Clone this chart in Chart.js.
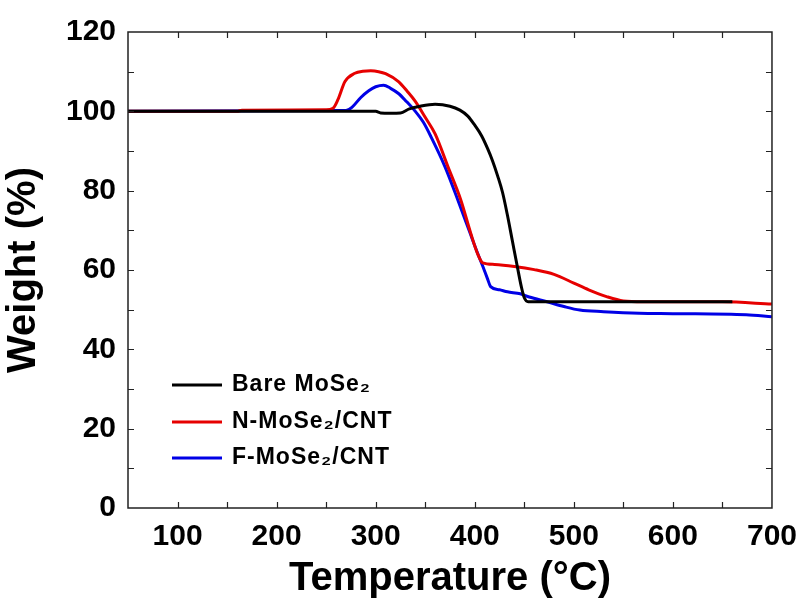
<!DOCTYPE html>
<html>
<head>
<meta charset="utf-8">
<script src="https://cdn.jsdelivr.net/npm/chart.js@4.4.1/dist/chart.umd.min.js"></script>
<style>
  html, body { margin: 0; padding: 0; background: #fff; }
  #wrap { width: 808px; height: 603px; }
</style>
</head>
<body>
<div id="wrap"><canvas id="tga" width="808" height="603"></canvas></div>
<script>
// --- Dane ---
const bareTemp = [50, 150, 250, 300, 305, 315, 325, 334, 345, 360, 375, 385, 393, 400, 407, 413, 418, 423, 428, 433, 438, 443, 447, 450, 454, 500, 600, 660];
const bareWeight = [100, 100, 100, 100, 99.6, 99.5, 99.6, 100.6, 101.3, 101.8, 101.3, 100.3, 98.8, 96.5, 93.8, 90.6, 87.5, 83.8, 79.6, 73.8, 67.3, 60.8, 55.8, 53, 52, 52, 52, 52];

const nTemp = [50, 160, 165, 250, 257, 262, 269, 279, 287, 295, 303, 310, 323, 332, 340, 350, 360, 373, 386, 396, 403, 408, 420, 440, 460, 480, 500, 515, 533, 550, 570, 650, 700];
const nWeight = [100, 100, 100.3, 100.4, 100.8, 103, 107.5, 109.6, 110.1, 110.2, 110, 109.5, 107.5, 105, 102.5, 98.5, 94.3, 86, 77.6, 69.2, 64, 61.8, 61.4, 60.9, 60.1, 58.9, 56.7, 55, 53.3, 52.2, 52, 52, 51.4];

const fTemp = [50, 270, 276, 285, 293, 300, 308, 315, 323, 331, 340, 348, 356, 370, 383, 395, 402, 408, 413, 416, 425, 433, 446, 455, 473, 490, 506, 530, 566, 600, 674, 700];
const fWeight = [100, 100.2, 101, 103.5, 105.2, 106.2, 106.6, 105.8, 104.5, 102.5, 100, 97.3, 93.5, 86, 77.6, 69.5, 64.8, 61, 57.7, 55.8, 55, 54.5, 54, 53.2, 52, 50.8, 49.9, 49.5, 49.1, 49, 48.7, 48.2];

const seriesNames = ['Bare MoSe₂', 'N-MoSe₂/CNT', 'F-MoSe₂/CNT'];
const seriesColors = ['#000000', '#e60000', '#0000e6'];

const xTickLabels = [100, 200, 300, 400, 500, 600, 700];
const yTickLabels = [0, 20, 40, 60, 80, 100, 120];

const FONT = "'Liberation Sans', Arial, sans-serif";

function toPoints(xs, ys) {
  return xs.map((x, i) => ({ x: x, y: ys[i] }));
}

// --- Ramka i ticki do środka ---
const frameTicks = {
  id: 'frameTicks',
  afterDraw(chart) {
    const { ctx, chartArea: a, scales } = chart;
    ctx.save();
    ctx.strokeStyle = '#222';
    ctx.lineWidth = 1.5;
    ctx.strokeRect(a.left, a.top, a.right - a.left, a.bottom - a.top);
    const len = 6;
    ctx.beginPath();
    scales.x.ticks.forEach(t => {
      const px = Math.round(scales.x.getPixelForValue(t.value)) + 0.5;
      if (px <= a.left + 1 || px >= a.right - 1) return;
      ctx.moveTo(px, a.bottom); ctx.lineTo(px, a.bottom - len);
      ctx.moveTo(px, a.top); ctx.lineTo(px, a.top + len);
    });
    scales.y.ticks.forEach(t => {
      const py = Math.round(scales.y.getPixelForValue(t.value)) + 0.5;
      if (py <= a.top + 1 || py >= a.bottom - 1) return;
      ctx.moveTo(a.left, py); ctx.lineTo(a.left + len, py);
      ctx.moveTo(a.right, py); ctx.lineTo(a.right - len, py);
    });
    ctx.lineWidth = 1.2;
    ctx.stroke();
    ctx.restore();
  }
};

// --- Legenda wewnątrz wykresu ---
const insideLegend = {
  id: 'insideLegend',
  afterDraw(chart) {
    const ctx = chart.ctx;
    ctx.save();
    ctx.font = 'bold 23px ' + FONT;
    ctx.textBaseline = 'middle';
    ctx.letterSpacing = '1px';
    const rows = [385, 422, 458];
    chart.data.datasets.forEach((ds, i) => {
      ctx.strokeStyle = ds.borderColor;
      ctx.lineWidth = 3;
      ctx.beginPath();
      ctx.moveTo(172, rows[i]);
      ctx.lineTo(222, rows[i]);
      ctx.stroke();
      ctx.fillStyle = '#000';
      ctx.fillText(ds.label, 232, rows[i]);
    });
    ctx.restore();
  }
};

const datasets = [
  toPoints(bareTemp, bareWeight),
  toPoints(nTemp, nWeight),
  toPoints(fTemp, fWeight)
].map((pts, i) => ({
  label: seriesNames[i],
  data: pts,
  borderColor: seriesColors[i],
  backgroundColor: seriesColors[i],
  borderWidth: 3,
  pointRadius: 0,
  cubicInterpolationMode: 'monotone',
  fill: false
}));

new Chart(document.getElementById('tga'), {
  type: 'line',
  data: { datasets: datasets },
  options: {
    responsive: false,
    animation: false,
    layout: { padding: { top: 32, right: 32, left: 0, bottom: 0 } },
    plugins: { legend: { display: false }, tooltip: { enabled: false } },
    scales: {
      x: {
        type: 'linear',
        min: 50,
        max: 700,
        grid: { display: false, drawTicks: false },
        border: { display: false },
        ticks: {
          stepSize: 50,
          padding: 11,
          color: '#000',
          font: { family: FONT, weight: 'bold', size: 30 },
          maxRotation: 0,
          autoSkip: false,
          callback: v => xTickLabels.includes(v) ? String(v) : ''
        },
        title: {
          display: true,
          text: 'Temperature (°C)',
          color: '#000',
          font: { family: FONT, weight: 'bold', size: 40 },
          padding: { top: 0, bottom: 0 }
        },
        afterFit: s => { s.height = 95; }
      },
      y: {
        min: 0,
        max: 120,
        grid: { display: false, drawTicks: false },
        border: { display: false },
        ticks: {
          stepSize: 10,
          padding: 12,
          color: '#000',
          font: { family: FONT, weight: 'bold', size: 30 },
          autoSkip: false,
          callback: v => yTickLabels.includes(v) ? String(v) : ''
        },
        title: {
          display: true,
          text: 'Weight (%)',
          color: '#000',
          font: { family: FONT, weight: 'bold', size: 40 },
          padding: { top: 0, bottom: 0 }
        },
        afterFit: s => { s.width = 128; }
      }
    }
  },
  plugins: [frameTicks, insideLegend]
});
</script>
</body>
</html>
